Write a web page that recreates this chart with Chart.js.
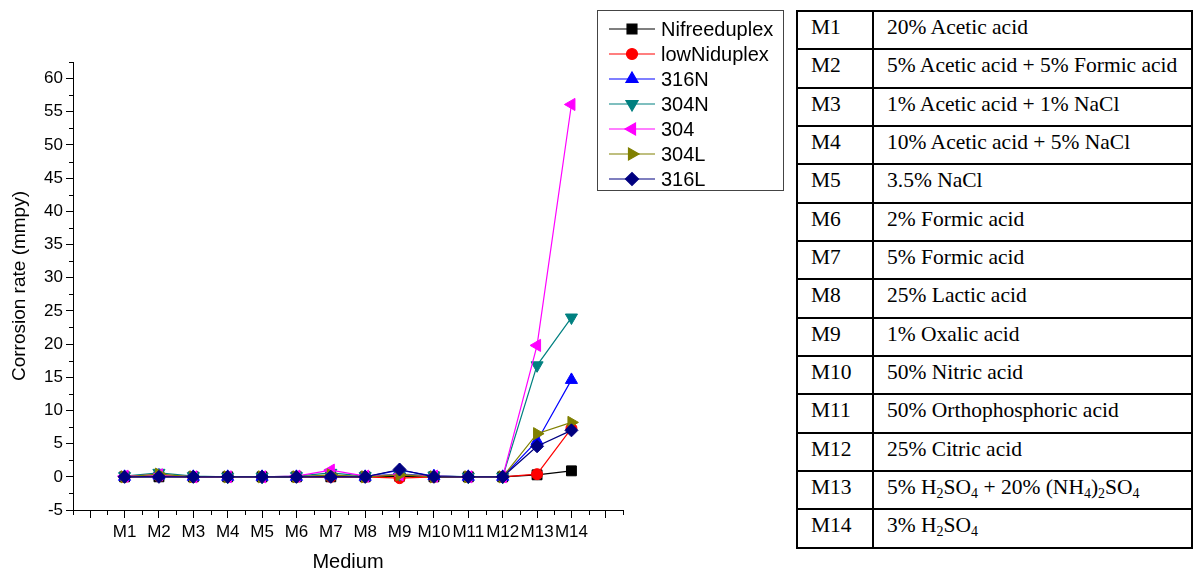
<!DOCTYPE html>
<html>
<head>
<meta charset="utf-8">
<script src="https://cdn.jsdelivr.net/npm/chart.js@4.4.1/dist/chart.umd.min.js"></script>
<style>
  html, body { margin: 0; padding: 0; background: #fff; }
  #wrap { position: relative; width: 1199px; height: 572px; overflow: hidden; }
  #chartBox { position: absolute; left: 0; top: 0; width: 790px; height: 572px; }
  #media { position: absolute; left: 796px; top: 10px; width: 397px; height: 539px;
           border-collapse: collapse; table-layout: fixed;
           font-family: "Liberation Serif", "Times New Roman", serif; font-size: 21.5px; color: #000; }
  #media td { border: 2px solid #000; vertical-align: top; padding: 3px 0 0 13px; line-height: 24px; white-space: nowrap; }
  #media col.k { width: 76px; }
  #media sub { font-size: 14px; vertical-align: -4px; line-height: 0; }
</style>
</head>
<body>
<div id="wrap">
  <div id="chartBox"><canvas id="c" width="790" height="572"></canvas></div>
  <table id="media"><colgroup><col class="k"><col></colgroup><tbody id="mediaBody"></tbody></table>
</div>
<script>
// Test media (x axis categories)
const categories = ['M1','M2','M3','M4','M5','M6','M7','M8','M9','M10','M11','M12','M13','M14'];

// Corrosion rate in mmpy for each alloy
const nifreeDuplex = [0, 0, 0, 0, 0, 0, 0, 0, 0.1, 0, 0, 0, 0.3, 0.9];
const lowNiDuplex  = [0, 0.1, 0, 0, 0, 0, 0, 0, -0.2, 0, 0, 0, 0.4, 7.3];
const ss316N       = [0, 0.2, 0, 0, 0, 0, 0.2, 0, 1.0, 0.1, 0, 0, 5.4, 14.6];
const ss304N       = [0.1, 0.6, 0.1, 0, 0, 0.1, 0.6, 0.1, 0.4, 0.2, 0, 0, 16.8, 24.0];
const ss304        = [0.1, 0.3, 0, 0, 0, 0.1, 1.0, 0.1, 0.3, 0.1, 0, 0, 19.8, 56.1];
const ss304L       = [0, 0.4, 0, 0, 0, 0, 0.3, 0, 0.3, 0, 0, 0, 6.5, 8.2];
const ss316L       = [0, 0, 0, 0, 0, 0, 0, 0, 1.1, 0, 0, 0, 4.6, 7.0];

// Y axis labelled ticks
const yTickLabels = [-5, 0, 5, 10, 15, 20, 25, 30, 35, 40, 45, 50, 55, 60];

// Composition of each medium
const mediaNames = ['M1','M2','M3','M4','M5','M6','M7','M8','M9','M10','M11','M12','M13','M14'];
const mediaDesc = [
  '20% Acetic acid',
  '5% Acetic acid + 5% Formic acid',
  '1% Acetic acid + 1% NaCl',
  '10% Acetic acid + 5% NaCl',
  '3.5% NaCl',
  '2% Formic acid',
  '5% Formic acid',
  '25% Lactic acid',
  '1% Oxalic acid',
  '50% Nitric acid',
  '50% Orthophosphoric acid',
  '25% Citric acid',
  '5% H<sub>2</sub>SO<sub>4</sub> + 20% (NH<sub>4</sub>)<sub>2</sub>SO<sub>4</sub>',
  '3% H<sub>2</sub>SO<sub>4</sub>'
];

const body = document.getElementById('mediaBody');
mediaNames.forEach((m, i) => {
  const tr = document.createElement('tr');
  tr.innerHTML = '<td>' + m + '</td><td>' + mediaDesc[i] + '</td>';
  body.appendChild(tr);
});

const series = [
  { label: 'Nifreeduplex', data: nifreeDuplex, color: '#000000', style: 'rect',     rot: 0,   r: 7 },
  { label: 'lowNiduplex',  data: lowNiDuplex,  color: '#FF0000', style: 'circle',   rot: 0,   r: 5.5 },
  { label: '316N',         data: ss316N,       color: '#0000FF', style: 'triangle', rot: 0,   r: 7 },
  { label: '304N',         data: ss304N,       color: '#008080', style: 'triangle', rot: 180, r: 7 },
  { label: '304',          data: ss304,        color: '#FF00FF', style: 'triangle', rot: 270, r: 7 },
  { label: '304L',         data: ss304L,       color: '#808000', style: 'triangle', rot: 90,  r: 7 },
  { label: '316L',         data: ss316L,       color: '#000080', style: 'rectRot',  rot: 0,   r: 6.5 }
];

const datasets = series.map((s, i) => ({
  label: s.label,
  data: s.data.map((v, k) => ({ x: k + 1, y: v })),
  borderColor: s.color,
  backgroundColor: s.color,
  borderWidth: 1.2,
  pointStyle: s.style,
  pointRotation: s.rot,
  pointRadius: s.r,
  pointBorderWidth: 1,
  pointBorderColor: s.color,
  pointBackgroundColor: s.color,
  tension: 0,
  order: series.length - i
}));

const FONT = '"Liberation Sans", Arial, sans-serif';
const isMajorX = v => Number.isInteger(v);
const isMajorY = v => v % 5 === 0;

// Short minor tick marks between the labelled ones
const minorTicks = {
  id: 'minorTicks',
  afterDraw(chart) {
    const ctx = chart.ctx;
    const xs = chart.scales.x, ys = chart.scales.y;
    ctx.save();
    ctx.strokeStyle = '#000';
    ctx.lineWidth = 1;
    ctx.beginPath();
    xs.ticks.forEach(t => {
      if (isMajorX(t.value)) return;
      const px = Math.round(xs.getPixelForValue(t.value)) + 0.5;
      ctx.moveTo(px, xs.top);
      ctx.lineTo(px, xs.top + 5);
    });
    ys.ticks.forEach(t => {
      if (isMajorY(t.value)) return;
      const py = Math.round(ys.getPixelForValue(t.value)) + 0.5;
      ctx.moveTo(ys.right, py);
      ctx.lineTo(ys.right - 4, py);
    });
    ctx.stroke();
    ctx.restore();
  }
};

// Boxed legend with line + marker samples, placed top right of the plot
const boxedLegend = {
  id: 'boxedLegend',
  afterDraw(chart) {
    const ctx = chart.ctx;
    const x0 = 597, y0 = 10, w = 186, h = 180;
    ctx.save();
    ctx.strokeStyle = '#444';
    ctx.lineWidth = 1;
    ctx.strokeRect(x0 + 0.5, y0 + 0.5, w, h);
    ctx.font = '20px ' + FONT;
    ctx.textBaseline = 'middle';
    series.forEach((s, i) => {
      const y = 29 + i * 25;
      ctx.strokeStyle = s.color;
      ctx.lineWidth = 1.2;
      ctx.beginPath();
      ctx.moveTo(609, y);
      ctx.lineTo(655, y);
      ctx.stroke();
      ctx.fillStyle = s.color;
      Chart.helpers.drawPoint(ctx, { pointStyle: s.style, rotation: s.rot, radius: s.r, borderWidth: 1 }, 632, y);
      ctx.fillStyle = '#000';
      ctx.fillText(s.label, 661, y + 1);
    });
    ctx.restore();
  }
};

new Chart(document.getElementById('c'), {
  type: 'line',
  data: { datasets },
  plugins: [boxedLegend, minorTicks],
  options: {
    responsive: false,
    animation: false,
    layout: { padding: { left: 0, top: 62, right: 167, bottom: 0 } },
    plugins: { legend: { display: false }, tooltip: { enabled: false } },
    scales: {
      x: {
        type: 'linear',
        min: -0.5,
        max: 15.5,
        afterFit: s => { s.height = 62; },
        border: { color: '#000', width: 1 },
        grid: {
          drawOnChartArea: false, drawTicks: true, tickLength: 8, color: '#000',
          tickColor: c => (c.tick && isMajorX(c.tick.value)) ? '#000' : 'rgba(0,0,0,0)'
        },
        ticks: {
          stepSize: 0.5,
          autoSkip: false,
          maxRotation: 0,
          minRotation: 0,
          color: '#000',
          padding: 4,
          font: { family: FONT, size: 17 },
          callback: v => (Number.isInteger(v) && v >= 1 && v <= categories.length) ? categories[v - 1] : ''
        },
        title: {
          display: true,
          text: 'Medium',
          color: '#000',
          font: { family: FONT, size: 20 },
          padding: { top: -2, bottom: -2 }
        }
      },
      y: {
        min: -5,
        max: 62.5,
        afterFit: s => { s.width = 73; },
        border: { color: '#000', width: 1 },
        grid: {
          drawOnChartArea: false, drawTicks: true, tickLength: 7, color: '#000',
          tickColor: c => (c.tick && isMajorY(c.tick.value)) ? '#000' : 'rgba(0,0,0,0)'
        },
        ticks: {
          stepSize: 2.5,
          autoSkip: false,
          color: '#000',
          padding: 3,
          font: { family: FONT, size: 17 },
          callback: v => yTickLabels.includes(v) ? String(v) : ''
        },
        title: {
          display: true,
          text: 'Corrosion rate (mmpy)',
          color: '#000',
          font: { family: FONT, size: 19 },
          padding: { top: 8, bottom: 8 }
        }
      }
    }
  }
});
</script>
</body>
</html>
